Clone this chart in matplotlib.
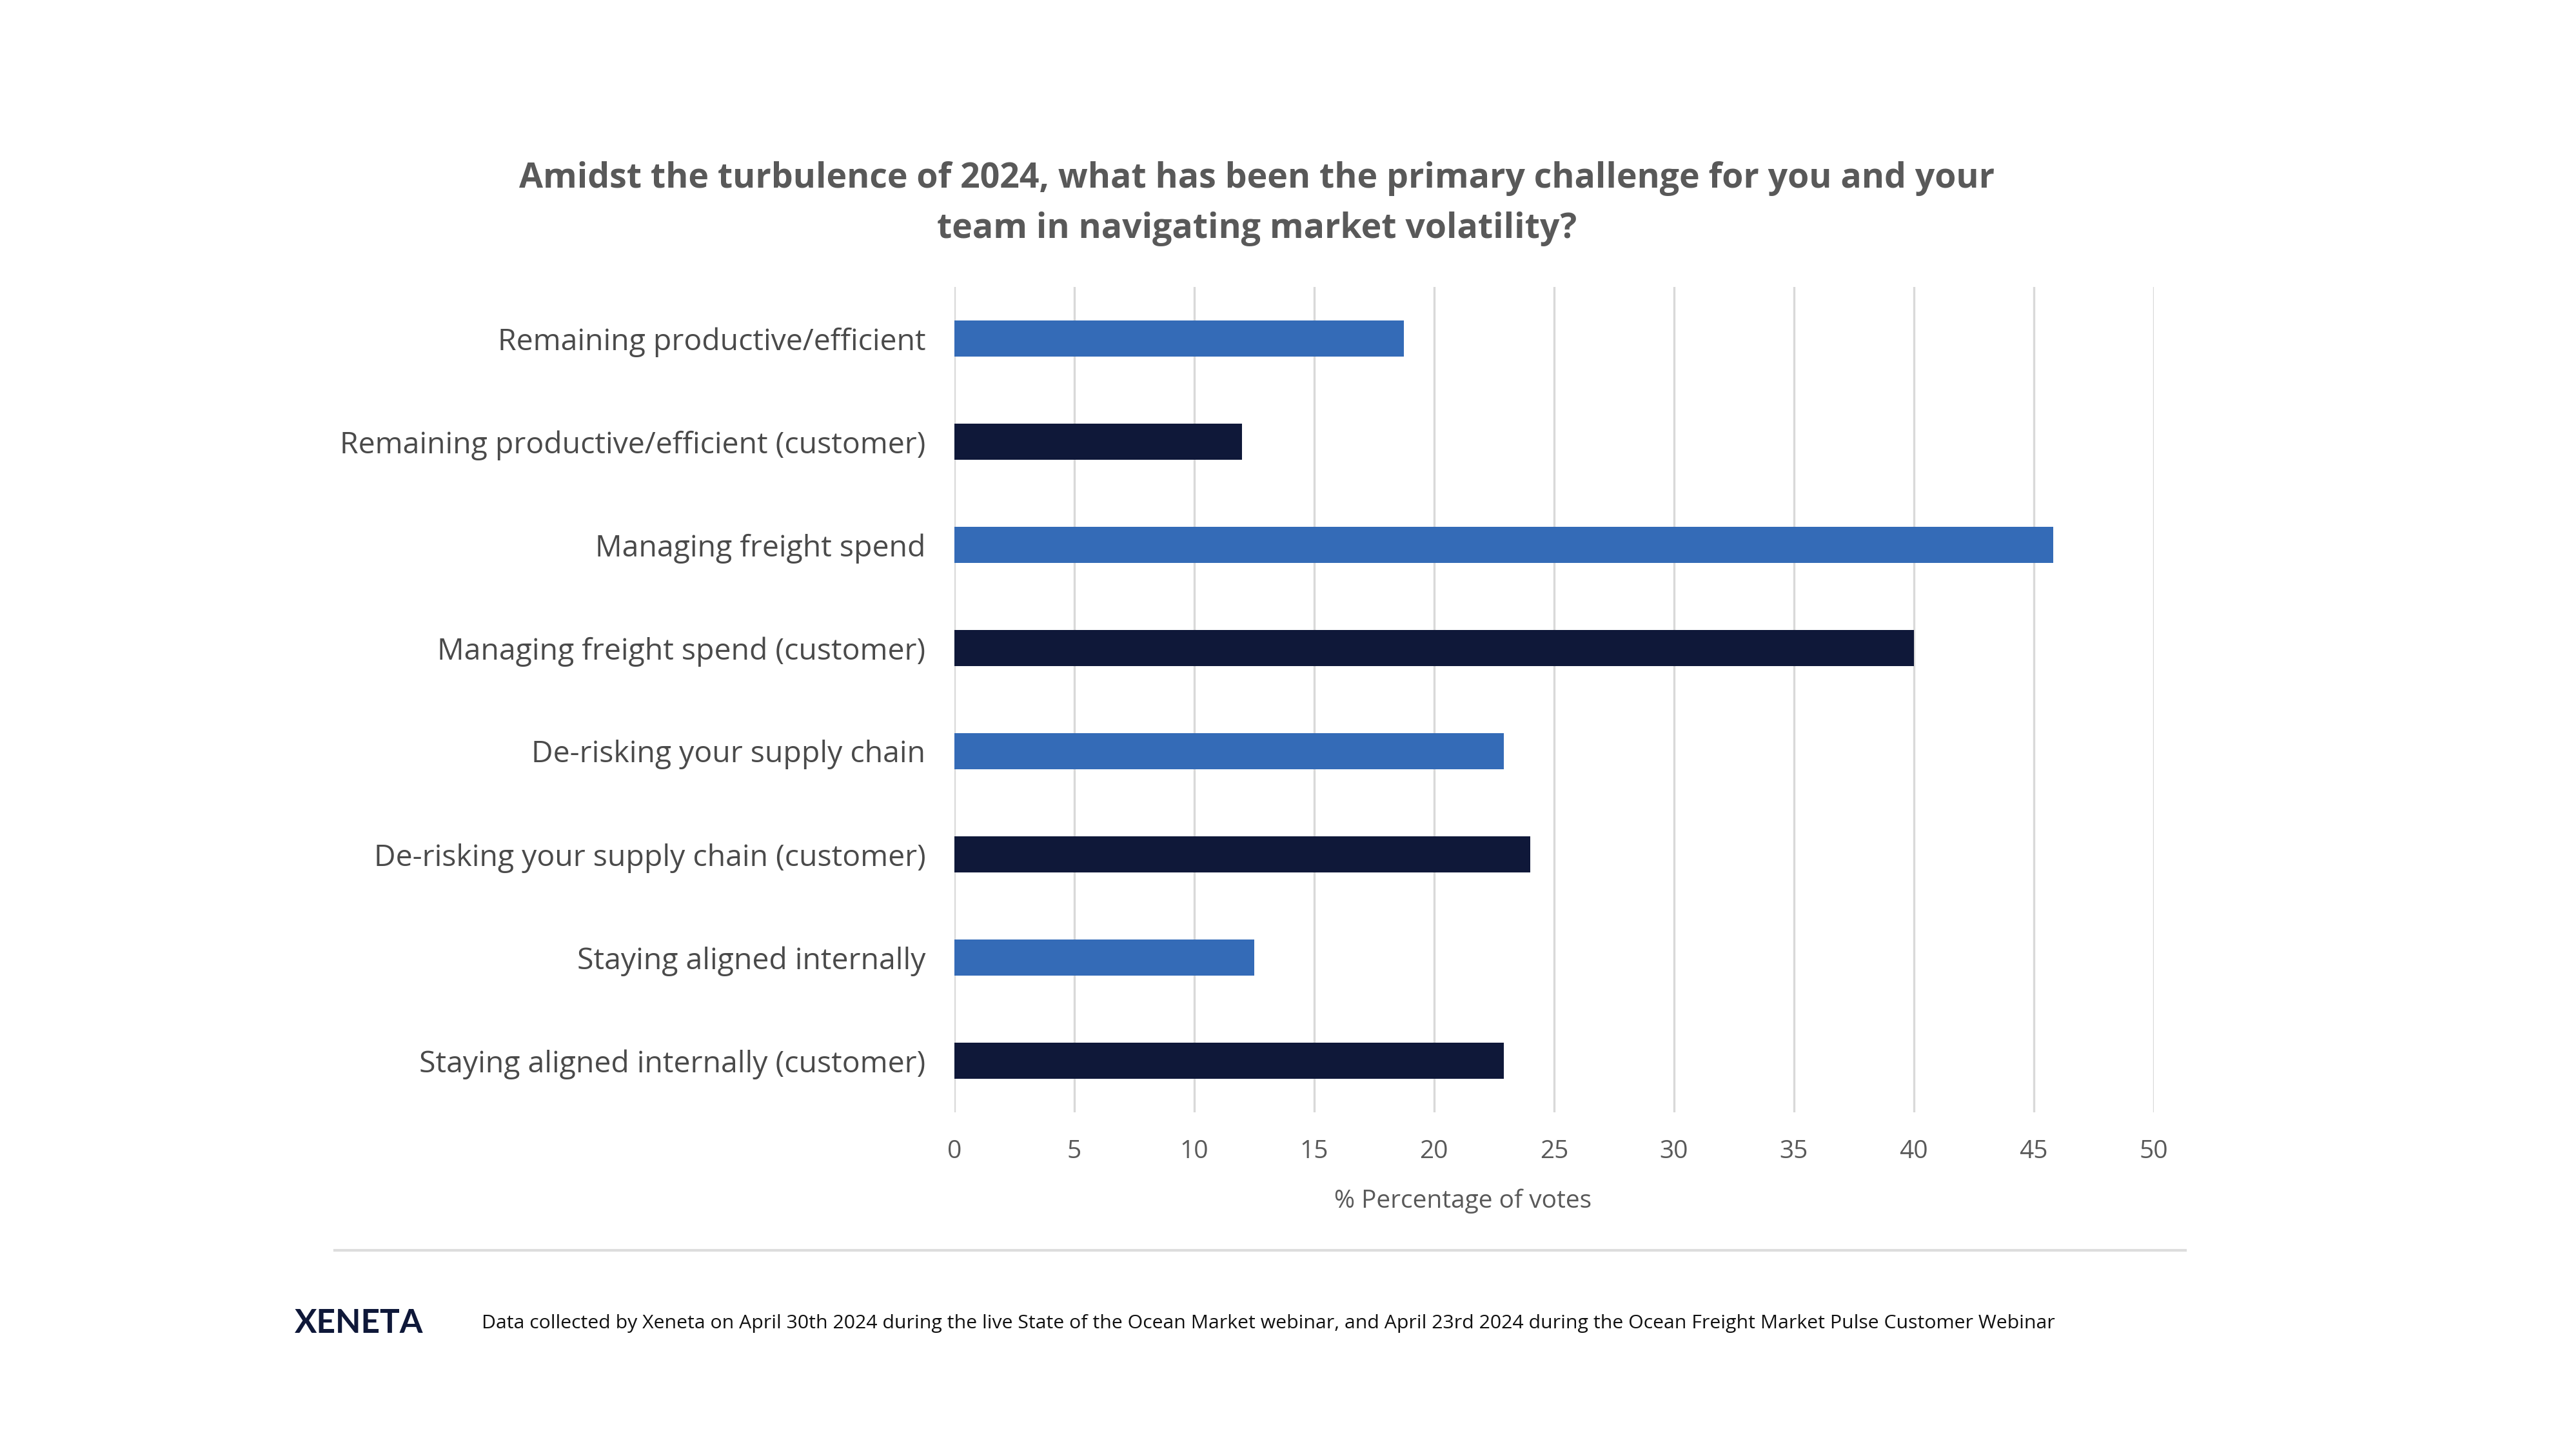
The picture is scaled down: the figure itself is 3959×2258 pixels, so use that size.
import matplotlib
matplotlib.use("Agg")
import matplotlib.pyplot as plt
from matplotlib.lines import Line2D

categories = [
    "Remaining productive/efficient",
    "Remaining productive/efficient (customer)",
    "Managing freight spend",
    "Managing freight spend (customer)",
    "De-risking your supply chain",
    "De-risking your supply chain (customer)",
    "Staying aligned internally",
    "Staying aligned internally (customer)",
]
values = [18.75, 12.0, 45.8, 40.0, 22.9, 24.0, 12.5, 22.9]
series_colors = ["#346BB7", "#0F1839"] * 4
xticks = [0, 5, 10, 15, 20, 25, 30, 35, 40, 45, 50]

title = ("Amidst the turbulence of 2024, what has been the primary challenge for you and your\n"
         "team in navigating market volatility?")
xlabel = "% Percentage of votes"
footer = ("Data collected by Xeneta on April 30th 2024 during the live State of the Ocean Market webinar, "
          "and April 23rd 2024 during the Ocean Freight Market Pulse Customer Webinar")

plt.rcParams['font.family'] = ['Open Sans', 'DejaVu Sans']

fig = plt.figure(figsize=(19.795, 11.29), dpi=200)
ax = fig.add_axes([0.3738, 0.236, 0.4698, 0.567])

ypos = list(range(len(categories)))
ax.barh(ypos, values, height=0.35, color=series_colors, zorder=3)
ax.set_ylim(len(categories) - 0.5, -0.5)
ax.set_xlim(0, 50)
ax.set_xticks(xticks)
ax.set_xticklabels([str(t) for t in xticks], fontsize=14, color="#595959")
ax.set_yticks(ypos)
ax.set_yticklabels(categories, fontsize=16.7, color="#4a4a4a")
ax.tick_params(axis='both', length=0)
ax.tick_params(axis='y', pad=16)
ax.tick_params(axis='x', pad=15)
ax.grid(axis='x', color="#d9d9d9", linewidth=1.2, zorder=0)
for s in ax.spines.values():
    s.set_visible(False)

fig.text(0.4924, 0.860, title, ha='center', va='center', fontsize=19.3, fontweight='bold',
         color="#595959", linespacing=1.6)
fig.text(0.573, 0.175, xlabel, ha='center', va='center', fontsize=14, color="#595959")

fig.add_artist(Line2D([0.131, 0.856], [0.1413, 0.1413], transform=fig.transFigure,
                      color="#dddddd", linewidth=1.5))
fig.text(0.1155, 0.0908, "XENETA", ha='left', va='center', fontsize=18.5, color="#0F1839",
         family=['Lato', 'DejaVu Sans'], fontweight='bold')
fig.text(0.1887, 0.0908, footer, ha='left', va='center', fontsize=10.9, color="#111111")

fig.savefig("out.png", dpi=200, facecolor="white")
